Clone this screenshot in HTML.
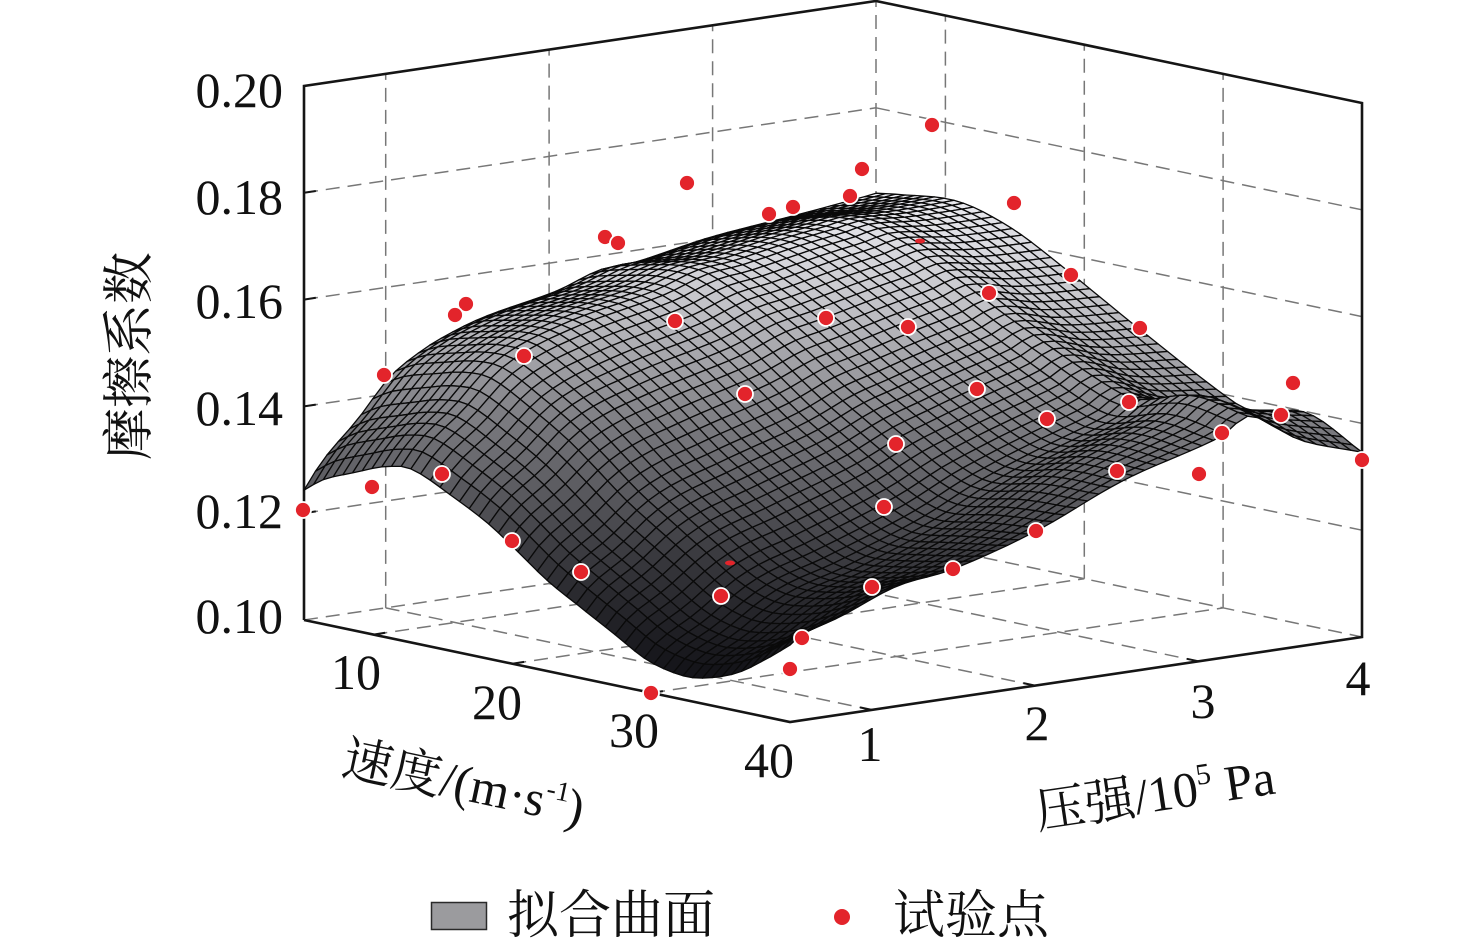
<!DOCTYPE html>
<html><head><meta charset="utf-8">
<style>
html,body{margin:0;padding:0;background:#fff;}
svg{display:block;}
.t{font-family:"Liberation Serif","Noto Serif CJK SC",serif;fill:#111;}
</style></head>
<body>
<svg id="s" width="1476" height="946" viewBox="0 0 1476 946" xmlns="http://www.w3.org/2000/svg">
<rect width="1476" height="946" fill="#fff"/>
<g fill="none" stroke="#777" stroke-width="1.5" stroke-dasharray="14 8">
  <path d="M385.7,607.9 L385.7,73.9 M549.1,583.6 L549.1,49.6 M712.6,559.3 L712.6,25.3 M876,535 L876,1"/>
  <path d="M304,620 L876,535 M304,513.2 L876,428.2 M304,406.4 L876,321.4 M304,299.6 L876,214.6 M304,192.8 L876,107.8"/>
  <path d="M945.4,549.6 L945.4,15.6 M1084.3,578.7 L1084.3,44.7 M1223.1,607.9 L1223.1,73.9"/>
  <path d="M876,535 L1362,637 M876,428.2 L1362,530.2 M876,321.4 L1362,423.4 M876,214.6 L1362,316.6 M876,107.8 L1362,209.8"/>
  <path d="M373.4,634.6 L945.4,549.6 M512.3,663.7 L1084.3,578.7 M651.1,692.9 L1223.1,607.9"/>
  <path d="M385.7,607.9 L871.7,709.9 M549.1,583.6 L1035.1,685.6 M712.6,559.3 L1198.6,661.3"/>
</g>
<g fill="none" stroke="#151515" stroke-width="2.6" stroke-linejoin="miter">
  <polyline points="304,620 304,86 876,1 1362,103 1362,637 790,722 304,620"/>
</g>
<g fill="none" stroke="#151515" stroke-width="2">
  <path d="M304,192.8 L315.8,191 M304,299.6 L315.8,297.8 M304,406.4 L315.8,404.6 M304,513.2 L315.8,511.4"/>
  <path d="M373.4,634.6 L385.2,632.8 M512.3,663.7 L524.1,661.9 M651.1,692.9 L662.9,691.1"/>
  <path d="M871.7,709.9 L860,707.4 M1035.1,685.6 L1023.4,683.1 M1198.6,661.3 L1186.9,658.8"/>
</g>
<g id="surf" stroke="#0a0a0a" stroke-width="1.3" stroke-linejoin="round"></g>
<g fill="#e3242b" stroke="#fff" stroke-width="1.8">
  <circle cx="932" cy="125" r="8"/><circle cx="862" cy="169" r="8"/><circle cx="687" cy="183" r="8"/>
  <circle cx="850" cy="196" r="8"/><circle cx="769" cy="214" r="8"/><circle cx="793" cy="207" r="8"/>
  <circle cx="1014" cy="203" r="8"/><circle cx="605" cy="237" r="8"/><circle cx="618" cy="243" r="8"/>
  <circle cx="466" cy="304" r="8"/><circle cx="455" cy="315" r="8"/><circle cx="675" cy="321" r="8"/>
  <circle cx="826" cy="318" r="8"/><circle cx="908" cy="327" r="8"/><circle cx="989" cy="293" r="8"/>
  <circle cx="1071" cy="275" r="8"/><circle cx="1140" cy="328" r="8"/><circle cx="524" cy="356" r="8"/>
  <circle cx="384" cy="375" r="8"/><circle cx="745" cy="394" r="8"/><circle cx="977" cy="389" r="8"/>
  <circle cx="1047" cy="419" r="8"/><circle cx="1129" cy="402" r="8"/><circle cx="1293" cy="383" r="8"/>
  <circle cx="1281" cy="415" r="8"/><circle cx="896" cy="444" r="8"/><circle cx="1222" cy="433" r="8"/>
  <circle cx="442" cy="474" r="8"/><circle cx="1117" cy="471" r="8"/><circle cx="1199" cy="474" r="8"/>
  <circle cx="372" cy="487" r="8"/><circle cx="884" cy="507" r="8"/><circle cx="303" cy="510" r="8"/>
  <circle cx="1362" cy="460" r="8"/><circle cx="1036" cy="531" r="8"/><circle cx="512" cy="541" r="8"/>
  <circle cx="953" cy="569" r="8"/><circle cx="581" cy="572" r="8"/><circle cx="872" cy="587" r="8"/>
  <circle cx="721" cy="596" r="8"/><circle cx="802" cy="638" r="8"/><circle cx="790" cy="669" r="8"/>
  <circle cx="651" cy="693" r="8"/>
</g>
<g fill="#e3242b">
  <ellipse cx="920" cy="241" rx="5" ry="2.5"/>
  <ellipse cx="730" cy="563" rx="5" ry="2.5"/>
</g>
<g class="t" font-size="50" text-anchor="end">
  <text x="283" y="107">0.20</text>
  <text x="283" y="214">0.18</text>
  <text x="283" y="318">0.16</text>
  <text x="283" y="425">0.14</text>
  <text x="283" y="528">0.12</text>
  <text x="283" y="633">0.10</text>
</g>
<g class="t" font-size="50" text-anchor="middle">
  <text x="356" y="689">10</text>
  <text x="497" y="719">20</text>
  <text x="634" y="747">30</text>
  <text x="769" y="777">40</text>
  <text x="870" y="761">1</text>
  <text x="1037" y="740">2</text>
  <text x="1203" y="718">3</text>
  <text x="1358" y="695">4</text>
</g>
<text class="t" font-size="52" text-anchor="middle" transform="translate(128,356) rotate(-90)" y="19">摩擦系数</text>
<text class="t" font-size="50" transform="translate(340,774) rotate(12)">速度/(m·s<tspan dy="-20" font-size="28">-1</tspan><tspan dy="20">)</tspan></text>
<text class="t" font-size="50" transform="translate(1038,829) rotate(-8.5)">压强/10<tspan dy="-20" font-size="30">5</tspan><tspan dy="20"> Pa</tspan></text>
<rect x="431.5" y="902.5" width="55" height="27" fill="#9b9b9e" stroke="#2a2a2a" stroke-width="1.5"/>
<text class="t" font-size="52" x="507" y="933">拟合曲面</text>
<circle cx="842" cy="917" r="8" fill="#e3242b"/>
<text class="t" font-size="52" x="893" y="933">试验点</text>
</svg>
<script>
(function(){
function mk(p){
  var n=p.length,m=[];
  for(var i=0;i<n;i++){var a=p[Math.max(0,i-1)],b=p[Math.min(n-1,i+1)];m[i]=(b[1]-a[1])/(b[0]-a[0]);}
  return function(x){
    var i=0;while(i<n-2&&x>p[i+1][0])i++;
    var x0=p[i][0],h=p[i+1][0]-x0,t=(x-x0)/h,t2=t*t,t3=t2*t;
    return (2*t3-3*t2+1)*p[i][1]+(t3-2*t2+t)*h*m[i]+(-2*t3+3*t2)*p[i+1][1]+(t3-t2)*h*m[i+1];
  };
}
function lin(p){
  var n=p.length;
  return function(x){
    if(x<=p[0][0])return p[0][1];
    if(x>=p[n-1][0])return p[n-1][1];
    var i=0;while(i<n-2&&x>p[i+1][0])i++;
    var t=(x-p[i][0])/(p[i+1][0]-p[i][0]);
    return p[i][1]+t*(p[i+1][1]-p[i][1]);
  };
}
var F=mk([[0,.1243],[.039,.127],[.109,.1298],[.163,.1318],[.22,.1325],[.307,.1289],[.377,.1254],[.43,.1219],[.5,.117],[.568,.1133],[.636,.1097],[.706,.106],[.774,.1045],[.821,.1048],[.891,.1071],[.959,.1114],[1,.1144]]);
var R=mk([[0,.1144],[.023,.1163],[.087,.1183],[.185,.1224],[.285,.1241],[.43,.1289],[.584,.136],[.752,.1414],[.804,.1445],[.892,.1386],[1,.1346]]);
var B=mk([[0,.164],[.041,.1646],[.167,.1657],[.278,.1628],[.387,.1574],[.535,.1493],[.702,.1406],[.77,.1381],[.887,.1398],[1,.1346]]);
var L=mk([[0,.1243],[.033,.1294],[.093,.136],[.15,.1431],[.208,.1473],[.267,.1501],[.325,.152],[.442,.1546],[.516,.1573],[.58,.1578],[.706,.1603],[.857,.1621],[.96,.1634],[1,.164]]);
var F0=.1243,F1=.1144,B0=.164,B1=.1346;
function zf(u,w){
  return (1-w)*F(u)+w*B(u)+(1-u)*L(w)+u*R(w)-((1-u)*(1-w)*F0+u*(1-w)*F1+(1-u)*w*B0+u*w*B1);
}
var cmap=lin([[190,238],[250,222],[300,203],[350,175],[380,158],[430,126],[500,92],[550,64],[600,43],[650,27],[690,17]]);
var N=50,Z=[],X=[],Y=[];
for(var i=0;i<=N;i++){Z[i]=[];X[i]=[];Y[i]=[];
  for(var j=0;j<=N;j++){var u=i/N,w=j/N,z=zf(u,w);Z[i][j]=z;
    X[i][j]=304+486*u+572*w;Y[i][j]=620+102*u-85*w-(z-0.1)*5340;}}
var q=[];
for(var i=0;i<N;i++)for(var j=0;j<N;j++){
  var zc=(Z[i][j]+Z[i+1][j]+Z[i+1][j+1]+Z[i][j+1])/4;
  var uc=(i+.5)/N,wc=(j+.5)/N;
  var d=uc-0.8497*wc+0.3263*(zc-0.1)/0.1;
  q.push([d,i,j,zc]);
}
q.sort(function(a,b){return a[0]-b[0];});
function f(v){return v.toFixed(1);}
var s=[];
for(var k=0;k<q.length;k++){
  var i=q[k][1],j=q[k][2];
  var yc=(Y[i][j]+Y[i+1][j]+Y[i+1][j+1]+Y[i][j+1])/4;
  var zu=((Z[i+1][j]+Z[i+1][j+1])-(Z[i][j]+Z[i][j+1]))/2/0.1*N;
  var zw=((Z[i][j+1]+Z[i+1][j+1])-(Z[i][j]+Z[i+1][j]))/2/0.1*N;
  var nz=1/Math.sqrt(1+zu*zu+zw*zw);
  var g=cmap(yc)*(0.8+0.2*nz);
  g=Math.round(Math.max(10,Math.min(240,g)));
  var bl=Math.min(255,g+5);
  s.push('<polygon points="'+f(X[i][j])+','+f(Y[i][j])+' '+f(X[i+1][j])+','+f(Y[i+1][j])+' '+f(X[i+1][j+1])+','+f(Y[i+1][j+1])+' '+f(X[i][j+1])+','+f(Y[i][j+1])+'" fill="rgb('+g+','+g+','+bl+')"/>');
}
var ns="http://www.w3.org/2000/svg";
var doc=new DOMParser().parseFromString('<svg xmlns="'+ns+'">'+s.join('')+'</svg>','image/svg+xml');
var gEl=document.getElementById('surf');
var kids=doc.documentElement.childNodes;
var frag=document.createDocumentFragment();
for(var k=0;k<kids.length;k++){frag.appendChild(document.importNode(kids[k],true));}
gEl.appendChild(frag);
})();
</script>
</body></html>
